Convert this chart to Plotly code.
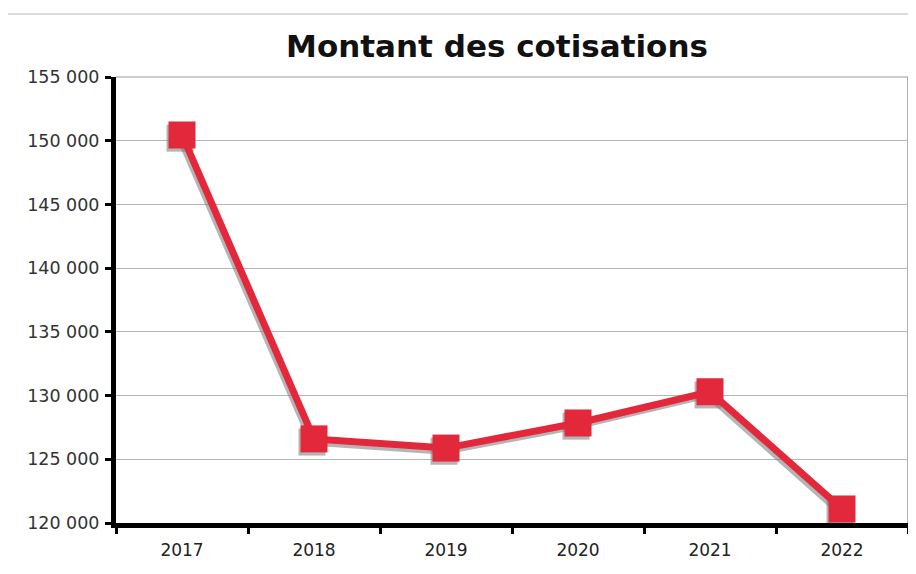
import plotly.graph_objects as go

years = ["2017", "2018", "2019", "2020", "2021", "2022"]
cotisations = [150450, 126600, 125880, 127850, 130300, 121100]
y_ticks = [120000, 125000, 130000, 135000, 140000, 145000, 150000, 155000]
y_tick_labels = ["120 000", "125 000", "130 000", "135 000", "140 000", "145 000", "150 000", "155 000"]

xpos = list(range(len(years)))
RED = "#E2283A"

# The page body adds an 8px offset, so the figure is sized to fit the window exactly.
W, H = 900, 558
L, T, B = 108, 69, 43

fig = go.Figure()
# drop shadow
fig.add_trace(go.Scatter(
    x=[v - 0.015 for v in xpos], y=[v - 250 for v in cotisations],
    mode="lines+markers",
    line=dict(color="rgba(120,120,120,0.55)", width=7),
    marker=dict(symbol="square", size=27, color="rgba(120,120,120,0.55)", line=dict(width=0)),
    hoverinfo="skip", showlegend=False, cliponaxis=False,
))
fig.add_trace(go.Scatter(
    x=xpos, y=cotisations, mode="lines+markers",
    line=dict(color=RED, width=7),
    marker=dict(symbol="square", size=27, color=RED, line=dict(width=0)),
    showlegend=False, cliponaxis=False,
))

fig.update_layout(
    width=W, height=H,
    margin=dict(l=L, r=0, t=T, b=B),
    paper_bgcolor="white", plot_bgcolor="white",
    title=dict(text="<b>Montant des cotisations</b>", x=489 / W, xanchor="center",
               y=1 - 38 / H, yanchor="middle",
               font=dict(family="DejaVu Sans", size=31, color="#111")),
    font=dict(family="DejaVu Sans", size=16, color="#333"),
    shapes=[
        dict(type="rect", xref="paper", yref="paper", x0=-0.2, x1=1.2, y0=-0.3, y1=1.1413,
             line=dict(color="#cfcfcf", width=1.5), layer="below"),
        dict(type="line", xref="paper", yref="paper", x0=1, x1=1, y0=0, y1=1,
             line=dict(color="#999", width=1.5), layer="below"),
        dict(type="line", xref="paper", yref="paper", x0=0, x1=1, y0=1, y1=1,
             line=dict(color="#999", width=1.2), layer="below"),
    ],
)
fig.update_xaxes(
    range=[-0.5, 5.5], tickvals=xpos, ticktext=years, ticks="",
    showline=True, linecolor="black", linewidth=5, showgrid=False, zeroline=False,
    tickfont=dict(family="DejaVu Sans", size=17, color="#222"),
    ticklabelstandoff=8,
    minor=dict(tickvals=[v - 0.5 for v in xpos] + [5.5], ticks="outside", ticklen=6,
               tickwidth=3, tickcolor="black", showgrid=False),
)
fig.update_yaxes(
    range=[120000, 155000], tickvals=y_ticks, ticktext=y_tick_labels,
    ticks="outside", ticklen=6, tickwidth=3, tickcolor="black",
    showline=True, linecolor="black", linewidth=5,
    showgrid=True, gridcolor="#b5b5b5", gridwidth=1, zeroline=False,
    tickfont=dict(family="DejaVu Sans", size=17.5, color="#333"),
    ticklabelstandoff=2,
)

fig.write_html("out.html")
